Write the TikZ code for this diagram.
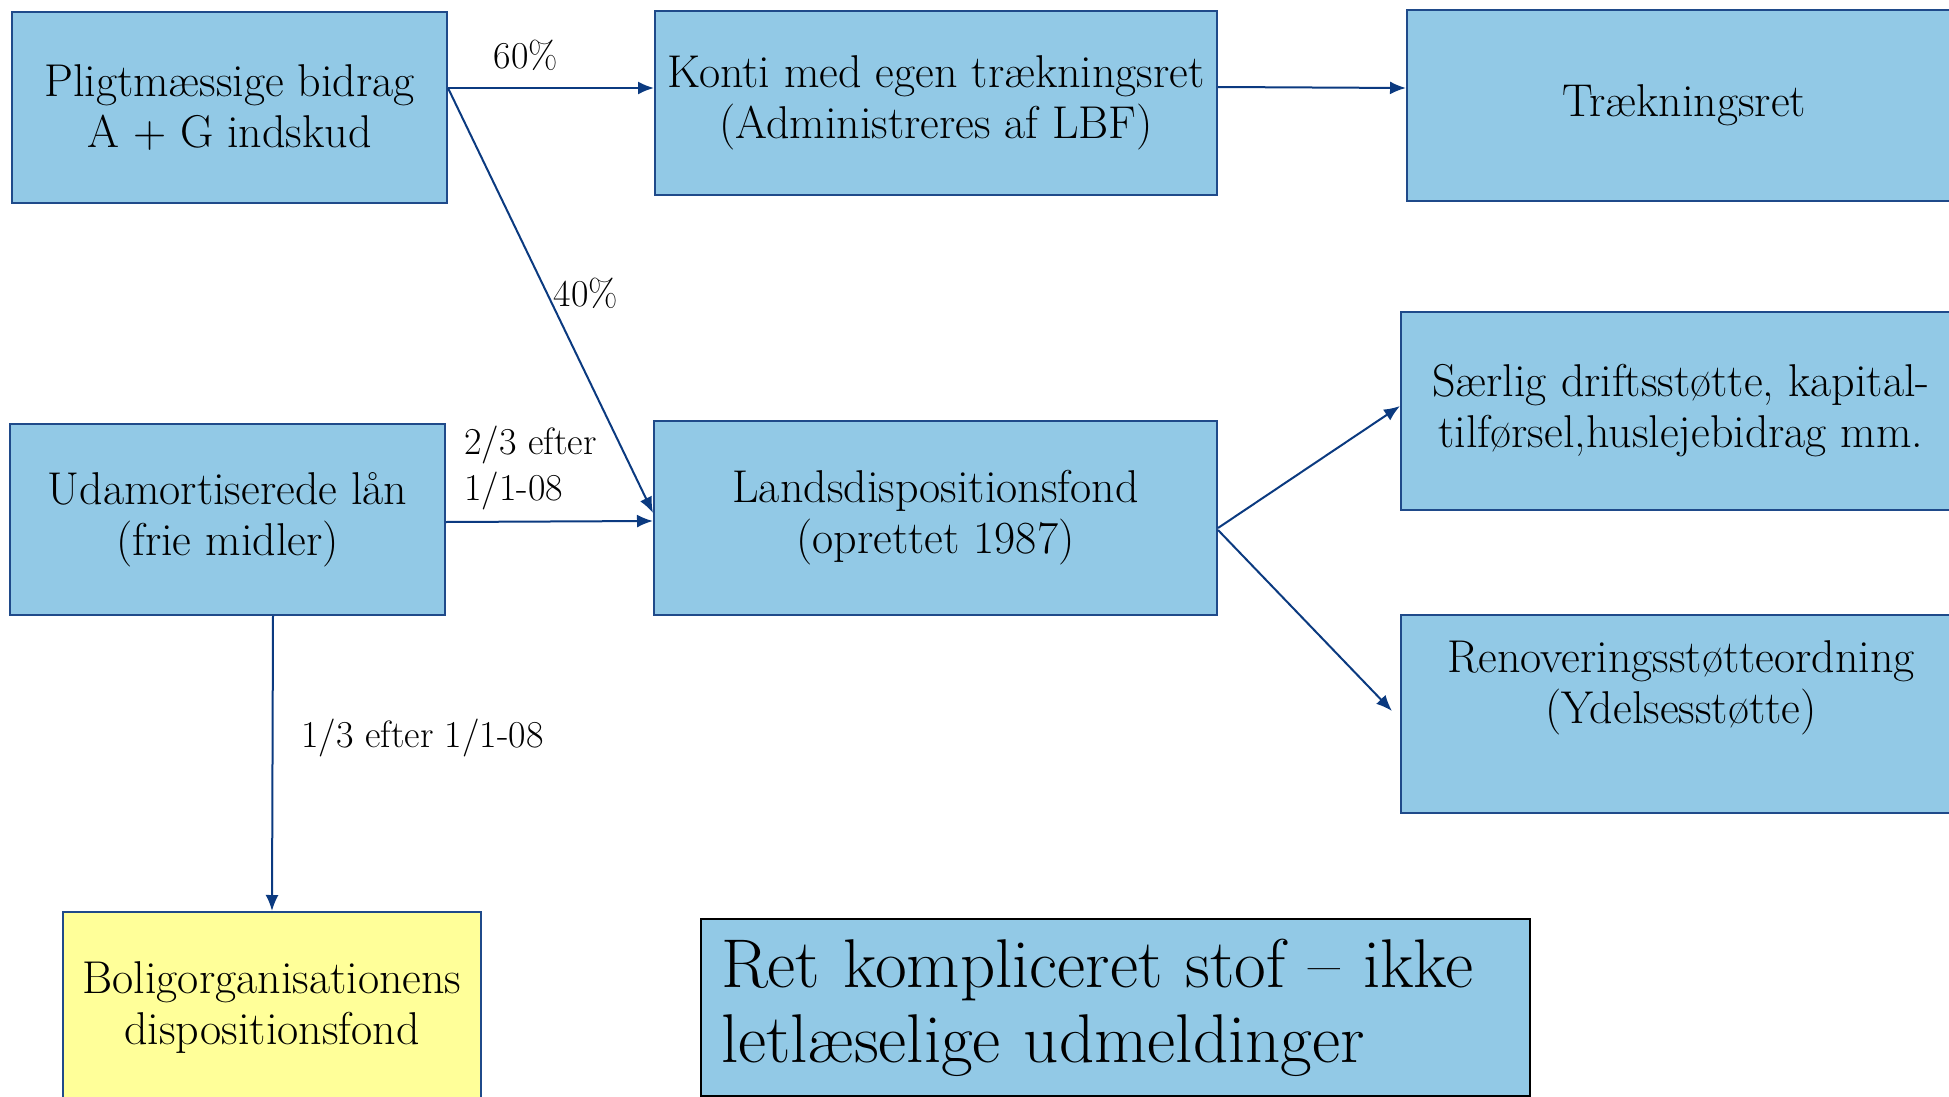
\documentclass[tikz,border=0pt]{standalone}
\usepackage{tikz}
\usepackage{xcolor}
\usetikzlibrary{arrows.meta}
\definecolor{fblue}{HTML}{92C9E6}
\definecolor{fborder}{HTML}{1F4A8A}
\definecolor{farrow}{HTML}{0B3A80}
\definecolor{fyellow}{HTML}{FFFF99}
\tikzset{
	fondbox/.style = {draw = fborder, line width = 1pt, fill = fblue, align = center, inner sep = 1pt, font = \fontsize{23}{25.5}\selectfont},
	pil/.style = {draw = farrow, line width = 1pt, -{Latex[length = 8pt, width = 6.5pt]}},
	lbl/.style = {inner sep = 0pt, font = \fontsize{19}{23}\selectfont}
}

\begin{document}
\begin{tikzpicture}[x = 0.5pt, y = -0.5pt]
		% fonde og ordninger
		\useasboundingbox (0,0) rectangle (1949,1097);
		\node[fondbox, minimum width = 435*0.5pt, minimum height = 191*0.5pt] (plig) at (229.5,107.5) {Pligtmæssige bidrag\\A + G indskud};
		\node[fondbox, minimum width = 562*0.5pt, minimum height = 184*0.5pt] (konti) at (936,103) {Konti med egen trækningsret\\(Administreres af LBF)};
		\node[fondbox, minimum width = 554*0.5pt, minimum height = 191*0.5pt] (trk) at (1684,105.5) {Trækningsret};
		\node[fondbox, minimum width = 435*0.5pt, minimum height = 191*0.5pt] (udam) at (227.5,519.5) {Udamortiserede lån\\(frie midler)};
		\node[fondbox, minimum width = 563*0.5pt, minimum height = 194*0.5pt] (lands) at (935.5,518) {Landsdispositionsfond\\(oprettet 1987)};
		\node[fondbox, minimum width = 560*0.5pt, minimum height = 198*0.5pt] (saerlig) at (1681,411) {Særlig driftsstøtte, kapital-\\tilførsel,huslejebidrag mm.};
		\node[fondbox, minimum width = 560*0.5pt, minimum height = 198*0.5pt, text depth = 31.5pt] (renov) at (1681,714) {Renoveringsstøtteordning\\(Ydelsesstøtte)};
		\node[fondbox, fill = fyellow, minimum width = 418*0.5pt, minimum height = 191*0.5pt] (bolig) at (272,1007.5) {Boligorganisationens\\dispositionsfond};
		\node[fondbox, draw = black, align = left, text width = 789*0.5pt, minimum height = 173*0.5pt, inner sep = 10pt, font = \fontsize{34.5}{37.5}\selectfont] (ret) at (1115.5,1007.5) {Ret kompliceret stof – ikke\\letlæselige udmeldinger};
		% pile
		\draw[pil] ([yshift = 9.75pt]plig.east) -- ([yshift = 7.5pt]konti.west);
		\draw[pil] ([yshift = 9.75pt]plig.east) -- ([yshift = 2.5pt]lands.west);
		\draw[pil] ([yshift = 8pt]konti.east) -- ([yshift = 8.75pt]trk.west);
		\draw[pil] ([yshift = -1.25pt]udam.east) -- ([yshift = -1.5pt]lands.west);
		\draw[pil] ([yshift = -5pt]lands.east) -- ([yshift = 2.5pt]saerlig.west);
		\draw[pil] ([yshift = -6pt]lands.east) -- ([xshift = -4pt, yshift = 1.5pt]renov.west);
		\draw[pil] ([xshift = 22.75pt]udam.south) -- (bolig.north);
		% tekster ved pilene
		\node[lbl] (l60) at (526,55) {60\%};
		\node[lbl] (l40) at (586,293) {40\%};
		\node[lbl, align = left, anchor = west] (l23) at (464,468) {2/3 efter\\1/1-08};
		\node[lbl, anchor = west] (l13) at (301,738) {1/3 efter 1/1-08};
	\end{tikzpicture}
\end{document}
